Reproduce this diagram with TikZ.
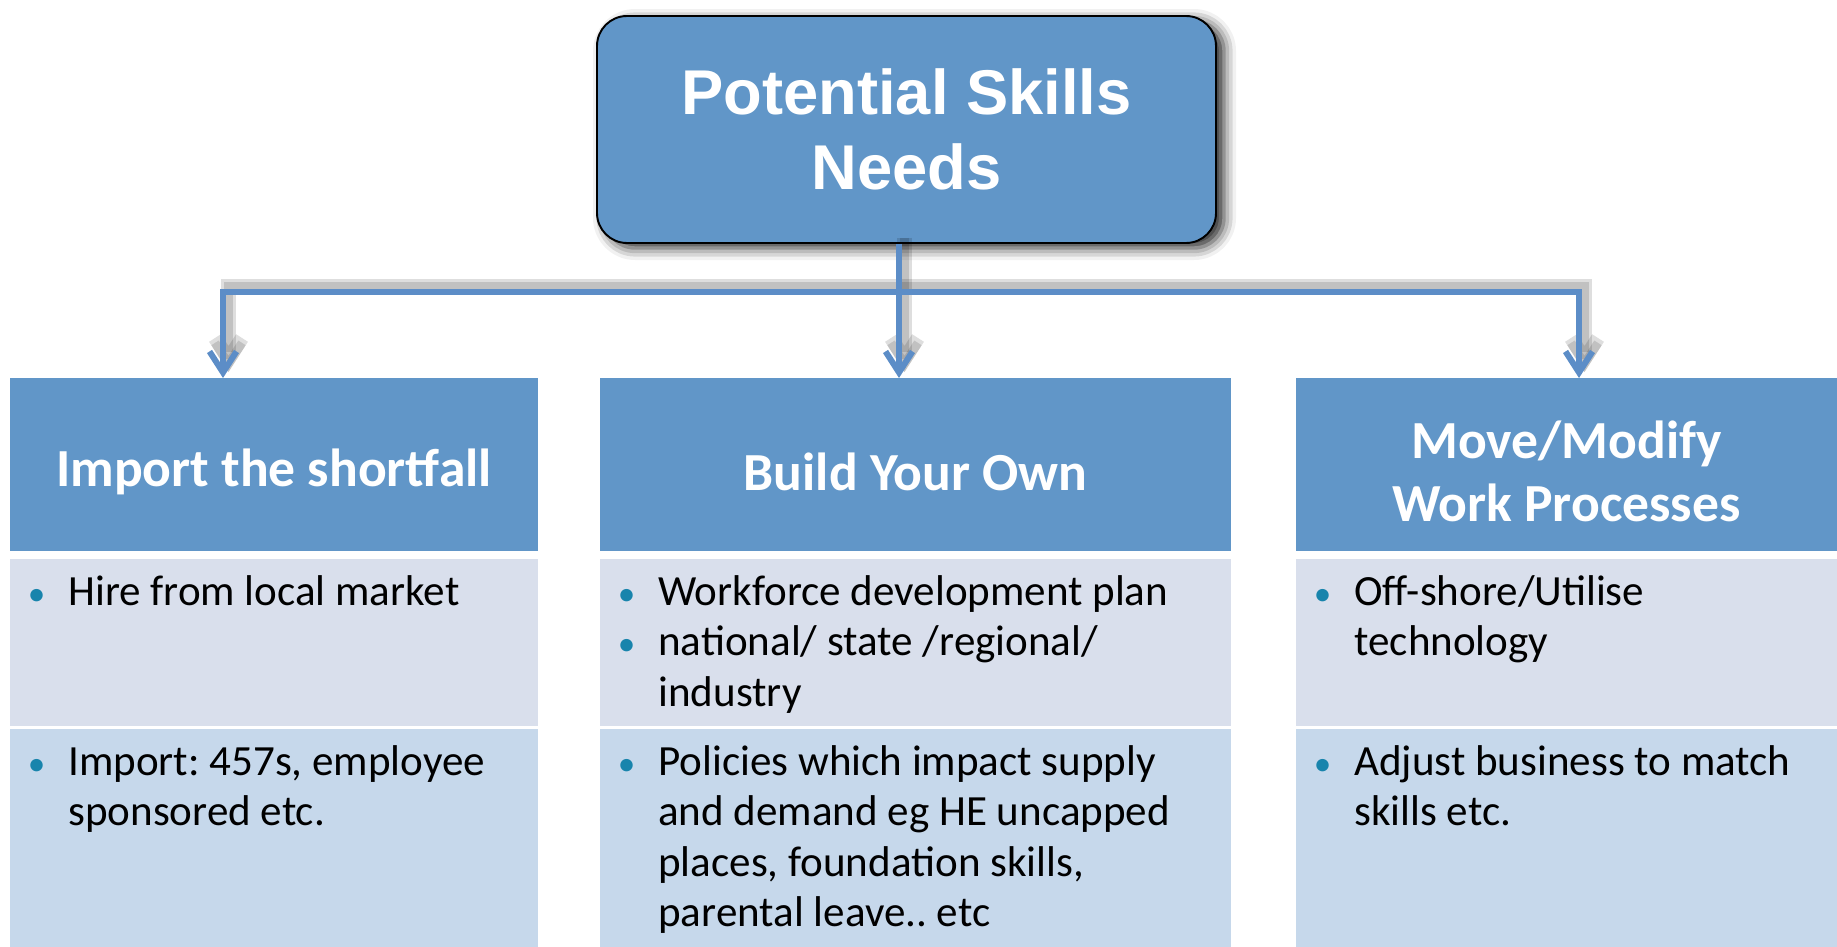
\documentclass[tikz,border=0pt]{standalone}
\usepackage{fontspec}
\usepackage{xcolor}
\usepackage{tikz}
\usetikzlibrary{arrows.meta, positioning, shadows.blur}

\setmainfont{Carlito}
\newfontfamily\titlefont{Liberation Sans}
\frenchspacing

\definecolor{hdrblue}{RGB}{97,150,200}
\definecolor{linkblue}{RGB}{92,141,199}
\definecolor{rowlight}{RGB}{217,223,236}
\definecolor{rowdark}{RGB}{198,216,235}
\definecolor{bulletc}{RGB}{24,132,172}

% bullet and hanging indent for the list cells
\newcommand{\bul}{\strut\makebox[0.84cm][l]{\hspace{0.03cm}\textcolor{bulletc}{\fontsize{20}{20}\selectfont\textbullet}}}
\newcommand{\ind}{\strut\hspace*{0.84cm}}

\tikzset{
  titlebox/.style={rectangle, rounded corners=0.6cm, draw=black, line width=1.1pt,
    fill=hdrblue, minimum width=12.38cm, minimum height=4.54cm, text=white, align=center,
    font=\titlefont\bfseries\fontsize{36}{42.7}\selectfont,
    blur shadow={shadow xshift=0.16cm, shadow yshift=-0.1cm, shadow blur radius=0.24cm, shadow opacity=85}},
  hdr/.style={rectangle, fill=hdrblue, inner sep=0pt, outer sep=0pt, minimum height=3.46cm},
  hdrtxt/.style={text=white, align=center, inner sep=0pt, font=\bfseries\fontsize{30.5}{36}\selectfont},
  cell/.style={rectangle, inner sep=0pt, outer sep=0pt},
  txt/.style={anchor=north west, inner sep=0pt, align=left, font=\fontsize{24.5}{28.6}\selectfont},
  link/.style={draw=linkblue, line width=3.4pt, -{Straight Barb[length=0.42cm, width=0.54cm]}},
  linkshade/.style={draw=black, line width=#1, opacity=0.13,
    -{Straight Barb[length=0.42cm, width=0.54cm]}, transform canvas={shift={(0.11,0.12)}}}
}

\begin{document}
\begin{tikzpicture}
    \useasboundingbox (0,0) rectangle (36.74,-18.94);

    % Box in alto
    \node[titlebox] (needs) at (18.13,-2.59) {Potential Skills\\Needs};

    % Intestazioni delle colonne
    \node[hdr, minimum width=10.56cm] (hdr0) at (5.48,-9.29) {};
    \node[hdr, minimum width=12.62cm] (hdr1) at (18.31,-9.29) {};
    \node[hdr, minimum width=10.82cm] (hdr2) at (31.33,-9.29) {};
    \node[hdrtxt] (hdrtxt0) at ([yshift=-0.14cm]hdr0.center) {Import the shortfall};
    \node[hdrtxt] (hdrtxt1) at ([yshift=-0.14cm]hdr1.center) {Build Your Own};
    \node[hdrtxt] (hdrtxt2) at ([yshift=-0.14cm]hdr2.center) {Move/Modify\\Work Processes};

    % Prima riga
    \node[cell, fill=rowlight, minimum width=10.56cm, minimum height=3.34cm, below=0.16cm of hdr0] (mid0) {};
    \node[cell, fill=rowlight, minimum width=12.62cm, minimum height=3.34cm, below=0.16cm of hdr1] (mid1) {};
    \node[cell, fill=rowlight, minimum width=10.82cm, minimum height=3.34cm, below=0.16cm of hdr2] (mid2) {};

    % Seconda riga
    \node[cell, fill=rowdark, minimum width=10.56cm, minimum height=4.36cm, below=0.06cm of mid0] (low0) {};
    \node[cell, fill=rowdark, minimum width=12.62cm, minimum height=4.36cm, below=0.06cm of mid1] (low1) {};
    \node[cell, fill=rowdark, minimum width=10.82cm, minimum height=4.36cm, below=0.06cm of mid2] (low2) {};

    % Testi
    \node[txt] (midtxt0) at ([shift={(0.32,-0.22)}]mid0.north west) {\bul Hire from local market};
    \node[txt] (midtxt1) at ([shift={(0.32,-0.22)}]mid1.north west) {\bul Workforce development plan\\
        \bul national/ state /regional/\\ \ind industry};
    \node[txt] (midtxt2) at ([shift={(0.32,-0.22)}]mid2.north west) {\bul Off-shore/Utilise\\ \ind technology};
    \node[txt] (lowtxt0) at ([shift={(0.32,-0.22)}]low0.north west) {\bul Import: 457s, employee\\ \ind sponsored etc.};
    \node[txt] (lowtxt1) at ([shift={(0.32,-0.22)}]low1.north west) {\bul Policies which impact supply\\
        \ind and demand eg HE uncapped\\ \ind places, foundation skills,\\ \ind parental leave.. etc};
    \node[txt] (lowtxt2) at ([shift={(0.32,-0.22)}]low2.north west) {\bul Adjust business to match\\ \ind skills etc.};

    % Frecce
    \coordinate (fork) at (17.98,-5.84);
    \coordinate (in0) at (4.46,-7.56);
    \coordinate (in1) at (17.98,-7.56);
    \coordinate (in2) at (31.58,-7.56);

    \foreach \w in {8pt,5pt} {
        \draw[linkshade=\w] (needs.south -| fork) -- (in1);
        \draw[linkshade=\w] (fork) -| (in0);
        \draw[linkshade=\w] (fork) -| (in2);
    }

    \draw[link] (needs.south -| fork) -- (in1);
    \draw[link] (fork) -| (in0);
    \draw[link] (fork) -| (in2);
\end{tikzpicture}
\end{document}
